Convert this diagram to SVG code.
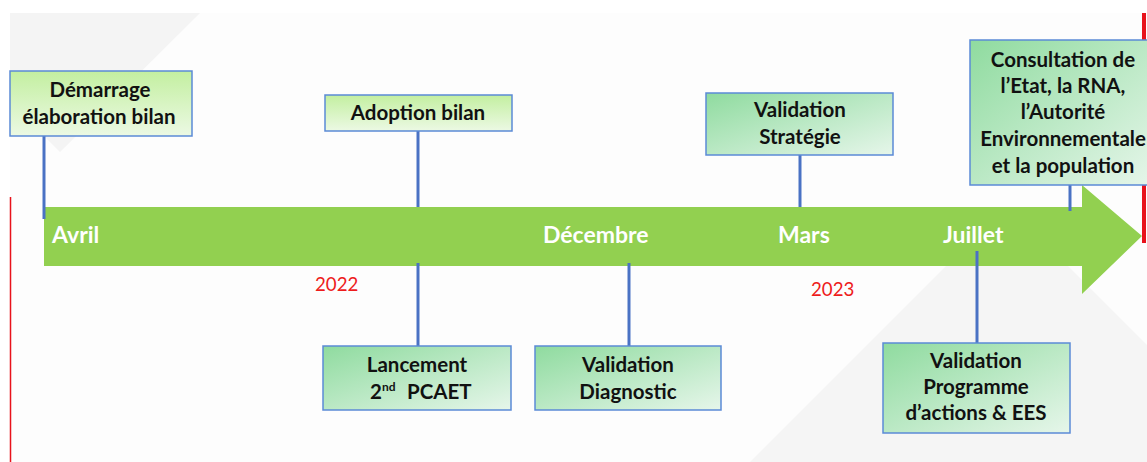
<svg xmlns="http://www.w3.org/2000/svg" width="1147" height="462" viewBox="0 0 1147 462">
<defs>
<linearGradient id="gLime" x1="0" y1="0" x2="0" y2="1">
<stop offset="0" stop-color="#c3efa0"/>
<stop offset="1" stop-color="#ecf9e4"/>
</linearGradient>
<linearGradient id="gTeal" x1="0" y1="0" x2="1" y2="1">
<stop offset="0" stop-color="#8fdb9f"/>
<stop offset="1" stop-color="#e6f6ea"/>
</linearGradient>
<style>
.box{stroke:#5b8ad6;stroke-width:1.5}
.lime{fill:url(#gLime)}
.teal{fill:url(#gTeal)}
.t{font-family:Lato,"Liberation Sans",sans-serif;font-weight:bold;font-size:20.5px;fill:#111;text-anchor:middle}
.m{font-family:Lato,"Liberation Sans",sans-serif;font-weight:bold;font-size:23px;fill:#fff}
.y{font-family:Lato,"Liberation Sans",sans-serif;font-size:18.7px;fill:#ee1c1c}
.c{stroke:#4a72c4;stroke-width:3;fill:none}
</style>
</defs>
<rect width="1147" height="462" fill="#ffffff"/>
<rect x="10" y="13" width="1137" height="449" fill="#fdfdfd"/>
<polygon points="10,13 200,13 60,152 10,102" fill="#f4f4f4"/>
<polygon points="750,462 947,265 1067,265 1147,345 1147,462" fill="#f5f5f5"/>
<line x1="10.5" y1="197" x2="10.5" y2="462" stroke="#e8121b" stroke-width="1.5"/>
<line x1="1144" y1="13" x2="1144" y2="243" stroke="#e8121b" stroke-width="4"/>
<g id="timeline-arrow">
<polygon points="44,207 1082,207 1082,185 1142,236 1082,294 1082,266 44,266" fill="#92d050"/>
<text class="m" x="52" y="243">Avril</text>
<text class="m" x="543" y="243">Décembre</text>
<text class="m" x="778" y="243">Mars</text>
<text class="m" x="943" y="243">Juillet</text>
</g>
<g id="years">
<text class="y" x="315" y="291">2022</text>
<text class="y" x="811" y="296">2023</text>
</g>
<g id="connectors">
<line class="c" x1="44" y1="136" x2="44" y2="219"/>
<line class="c" x1="418" y1="131" x2="418" y2="207"/>
<line class="c" x1="418" y1="263" x2="418" y2="346"/>
<line class="c" x1="629" y1="263" x2="629" y2="346"/>
<line class="c" x1="800" y1="155" x2="800" y2="207"/>
<line class="c" x1="977" y1="251" x2="977" y2="343"/>
<line class="c" x1="1070" y1="185" x2="1070" y2="211"/>
</g>
<g id="n-demarrage">
<rect class="box lime" x="10" y="71" width="182" height="65"/>
<text class="t" x="100" y="97">Démarrage</text>
<text class="t" x="99" y="124">élaboration bilan</text>
</g>
<g id="n-adoption">
<rect class="box lime" x="325" y="95" width="187" height="36"/>
<text class="t" x="418" y="120">Adoption bilan</text>
</g>
<g id="n-strategie">
<rect class="box teal" x="706" y="93" width="187" height="62"/>
<text class="t" x="800" y="117">Validation</text>
<text class="t" x="800" y="144">Stratégie</text>
</g>
<g id="n-consultation">
<rect class="box teal" x="970" y="40" width="182" height="145"/>
<text class="t" x="1063" y="67">Consultation de</text>
<text class="t" x="1063" y="93">l’Etat, la RNA,</text>
<text class="t" x="1063" y="119">l’Autorité</text>
<text class="t" x="1063" y="146">Environnementale</text>
<text class="t" x="1063" y="173">et la population</text>
</g>
<g id="n-lancement">
<rect class="box teal" x="323" y="346" width="188" height="64"/>
<text class="t" x="417" y="372">Lancement</text>
<text class="t" x="370" y="399" style="text-anchor:start">2<tspan font-size="12" dy="-8">nd</tspan><tspan x="407" dy="8">PCAET</tspan></text>
</g>
<g id="n-diagnostic">
<rect class="box teal" x="535" y="346" width="186" height="64"/>
<text class="t" x="628" y="372">Validation</text>
<text class="t" x="628" y="399">Diagnostic</text>
</g>
<g id="n-programme">
<rect class="box teal" x="883" y="343" width="187" height="90"/>
<text class="t" x="976" y="368">Validation</text>
<text class="t" x="976" y="394">Programme</text>
<text class="t" x="976" y="420">d’actions &amp; EES</text>
</g>
</svg>
